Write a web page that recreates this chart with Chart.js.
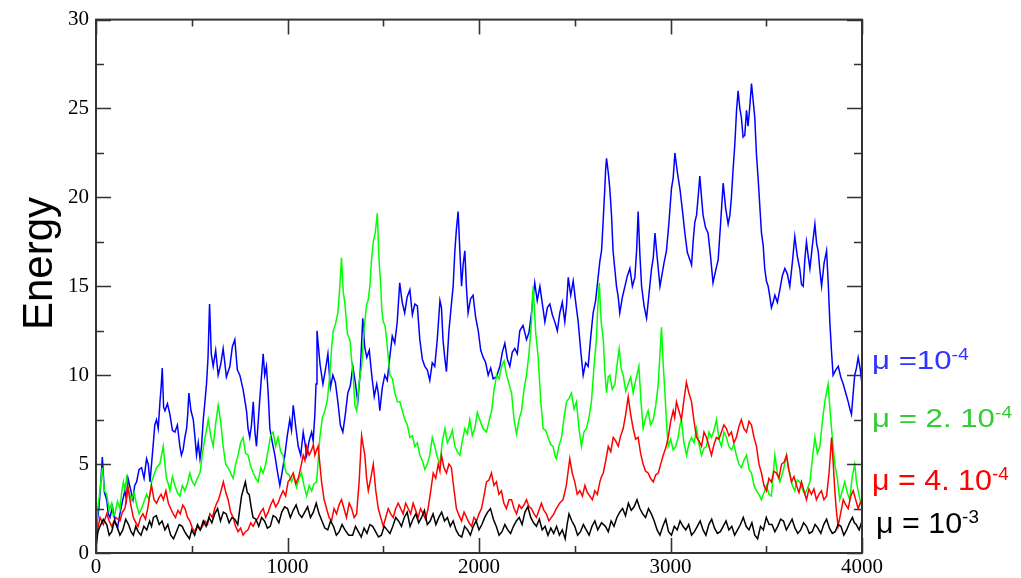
<!DOCTYPE html>
<html>
<head>
<meta charset="utf-8">
<script src="https://cdn.jsdelivr.net/npm/chart.js@4.4.1/dist/chart.umd.min.js"></script>
<style>
  html, body { margin: 0; padding: 0; background: #fff; }
  #wrap { position: relative; width: 1021px; height: 578px; overflow: hidden; }
  #c { position: absolute; left: 0; top: 0; }
  .lab { position: absolute; font-family: "Liberation Sans", Arial, sans-serif; white-space: nowrap; transform-origin: 0 0; line-height: 1; }
  .lab sup { font-size: 0.62em; vertical-align: 0; position: relative; top: -0.55em; }
  #ytitle { position: absolute; font-family: "Liberation Sans", Arial, sans-serif; font-size: 42px; line-height: 1; transform-origin: 0 0; transform: rotate(-90deg); white-space: nowrap; }
</style>
</head>
<body>
<div id="wrap">
  <canvas id="c" width="1021" height="578"></canvas>
  <div id="ytitle">Energy</div>
  <div class="lab" id="l1" style="color:#3333ff">μ =10<sup>-4</sup></div>
  <div class="lab" id="l2" style="color:#33cc33">μ = 2. 10<sup>-4</sup></div>
  <div class="lab" id="l3" style="color:#ff0000">μ = 4. 10<sup>-4</sup></div>
  <div class="lab" id="l4" style="color:#000000">μ = 10<sup>-3</sup></div>
</div>
<script>
// ---- tick definitions ----
const xMajorTicks = [0, 1000, 2000, 3000, 4000];
const xMinorTicks = [500, 1500, 2500, 3500];
const yMajorTicks = [0, 5, 10, 15, 20, 25, 30];
const yMinorTicks = [2.5, 7.5, 12.5, 17.5, 22.5, 27.5];
const xTickLabels = ["0", "1000", "2000", "3000", "4000"];
const yTickLabels = ["0", "5", "10", "15", "20", "25", "30"];
const seriesNames = ["μ =10^-4", "μ = 2. 10^-4", "μ = 4. 10^-4", "μ = 10^-3"];

// ---- series: mu = 1e-4 (blue) ----
const blueX = [0,7,15,24,33,44,56,64,73,86,99,112,125,138,151,159,167,180,193,202,212,225,238,251,264,273,282,290,298,307,316,325,334,340,346,353,360,373,386,399,412,425,438,446,455,464,473,479,485,496,508,516,525,534,543,551,560,568,577,585,593,602,612,625,638,651,664,681,699,712,725,738,751,768,786,794,803,812,821,830,838,855,873,881,890,899,908,921,934,947,960,973,986,999,1012,1021,1030,1043,1056,1069,1082,1091,1100,1113,1126,1134,1143,1149,1154,1170,1185,1198,1211,1224,1237,1250,1263,1276,1289,1302,1315,1328,1341,1354,1367,1380,1393,1403,1414,1427,1440,1453,1466,1474,1482,1495,1508,1521,1534,1547,1560,1573,1586,1599,1612,1625,1639,1652,1665,1678,1691,1704,1717,1730,1743,1756,1769,1782,1796,1804,1812,1821,1830,1843,1856,1865,1874,1882,1891,1900,1909,1917,1926,1934,1943,1956,1969,1982,1996,2009,2022,2035,2048,2061,2074,2091,2109,2122,2135,2148,2161,2174,2187,2200,2213,2230,2248,2261,2274,2282,2291,2304,2318,2331,2344,2357,2370,2383,2396,2409,2422,2435,2448,2457,2466,2479,2492,2505,2518,2531,2544,2557,2570,2583,2596,2609,2622,2631,2640,2648,2657,2661,2666,2675,2683,2692,2700,2709,2718,2727,2735,2749,2762,2775,2788,2801,2814,2823,2831,2840,2849,2862,2875,2888,2901,2910,2919,2928,2936,2945,2953,2966,2979,2992,3005,3014,3023,3036,3049,3062,3075,3088,3101,3110,3118,3127,3136,3145,3153,3162,3170,3183,3196,3209,3222,3236,3249,3262,3275,3288,3301,3310,3318,3327,3336,3345,3353,3362,3370,3379,3388,3397,3405,3414,3423,3432,3440,3449,3458,3467,3475,3484,3492,3501,3510,3519,3527,3536,3545,3558,3571,3584,3597,3610,3623,3636,3649,3662,3675,3684,3693,3702,3710,3719,3728,3741,3754,3763,3771,3780,3789,3802,3815,3824,3832,3841,3849,3863,3876,3889,3902,3915,3928,3937,3945,3954,3962,3971,3980,3990,4000];
const blueY = [0.5,1.8,2.5,3.8,5.4,3.4,3.0,2.2,2.0,2.6,1.8,1.4,2.2,2.9,3.5,3.0,4.2,3.6,3.0,3.8,4.0,4.7,4.8,4.2,5.3,5.0,4.0,5.0,6.0,7.2,7.5,7.0,8.5,9.3,10.4,8.2,8.0,8.4,7.8,6.9,6.8,7.2,6.0,5.5,5.8,6.5,7.0,7.8,9.0,8.0,7.5,6.6,5.5,6.2,5.3,6.0,7.5,8.4,9.5,11.0,14.0,11.2,10.5,11.4,10.0,10.6,11.5,9.9,10.5,11.6,12.0,10.3,10.0,9.2,8.0,7.0,6.5,7.2,8.5,6.8,6.0,8.6,11.2,10.0,10.5,9.0,7.0,6.2,5.5,4.6,3.8,4.6,5.5,6.6,7.5,6.9,8.3,7.1,6.0,5.5,6.8,6.2,5.5,6.3,6.8,6.3,7.8,9.5,12.5,10.6,9.5,10.3,11.2,9.3,10.0,9.6,8.5,7.2,6.8,7.8,9.0,9.4,10.5,9.6,8.5,10.2,13.2,11.6,11.0,11.4,10.0,8.8,9.5,9.0,8.0,9.3,10.0,9.7,11.0,12.2,11.8,13.0,15.2,14.1,13.5,14.4,14.8,13.4,14.0,13.9,12.0,10.9,10.5,10.3,9.7,10.7,10.5,12.0,14.2,13.8,12.0,11.0,10.2,12.5,14.0,15.0,17.0,18.2,19.2,17.0,15.0,16.2,17.0,15.0,13.5,14.3,14.5,13.3,12.5,11.4,11.0,10.7,10.0,10.4,9.8,9.9,10.5,11.3,11.8,10.9,10.5,11.3,11.5,11.2,12.5,12.8,12.0,12.4,13.5,14.3,15.2,14.2,15.0,14.0,13.0,13.8,14.0,13.4,13.0,12.5,13.5,14.1,13.0,13.9,15.5,14.5,15.3,14.1,13.0,11.4,10.0,10.7,10.5,12.1,13.5,14.2,15.5,16.4,17.0,18.6,20.5,21.5,22.2,21.4,20.5,19.0,17.0,16.0,15.0,14.4,13.5,14.4,15.0,15.6,16.0,15.0,15.5,17.0,19.2,16.8,15.0,13.9,13.2,14.6,16.0,16.6,18.0,16.9,16.0,15.0,15.5,16.3,17.0,18.6,20.5,21.1,22.5,21.4,20.5,19.3,18.0,16.9,16.5,16.2,17.5,18.6,19.0,20.1,21.2,20.0,19.0,18.3,18.0,16.7,15.2,15.9,16.5,18.6,20.8,19.4,18.5,19.0,20.0,21.6,23.0,24.9,26.0,25.0,24.5,23.4,23.5,24.9,24.0,25.1,26.4,25.4,24.5,22.4,21.0,19.4,18.0,17.3,16.0,15.3,15.0,14.4,13.8,14.1,14.5,14.1,14.8,15.6,16.0,15.7,15.0,16.3,17.8,16.7,16.0,15.1,15.0,16.6,17.5,16.7,16.0,17.3,18.5,17.4,17.0,15.9,15.0,16.3,17.0,15.1,13.0,11.3,10.0,10.3,10.5,9.9,9.5,9.0,8.5,8.1,7.8,9.0,10.0,10.4,11.0,10.4,9.5];

// ---- series: mu = 2e-4 (green) ----
const greenX = [0,10,21,27,33,44,56,69,82,90,99,112,125,134,143,151,160,173,186,199,212,225,238,251,264,277,290,303,316,333,351,360,368,377,386,399,412,425,438,451,464,477,490,503,516,529,543,556,569,577,586,599,612,625,638,651,664,677,690,703,716,729,742,755,768,781,794,807,821,834,847,860,873,886,899,912,925,938,951,964,977,986,995,1008,1021,1034,1047,1060,1073,1086,1100,1113,1126,1139,1152,1160,1169,1182,1195,1208,1221,1230,1239,1251,1263,1272,1282,1291,1300,1313,1326,1335,1343,1352,1361,1374,1387,1400,1413,1421,1430,1439,1448,1458,1469,1478,1487,1493,1500,1509,1518,1526,1535,1548,1561,1574,1587,1600,1613,1626,1639,1652,1665,1678,1691,1704,1717,1730,1743,1756,1769,1782,1796,1809,1822,1835,1848,1861,1874,1887,1900,1913,1926,1939,1952,1965,1978,1991,2004,2021,2039,2052,2066,2079,2092,2105,2118,2131,2144,2157,2170,2183,2196,2209,2222,2235,2248,2261,2274,2278,2283,2296,2309,2322,2335,2348,2361,2374,2387,2396,2404,2417,2431,2444,2457,2470,2483,2496,2509,2522,2535,2548,2561,2574,2587,2600,2613,2620,2628,2638,2649,2657,2666,2675,2683,2696,2710,2721,2732,2742,2753,2766,2779,2792,2805,2820,2835,2846,2857,2870,2883,2896,2910,2923,2936,2944,2953,2962,2971,2980,2988,3001,3014,3027,3040,3048,3057,3070,3084,3097,3110,3123,3136,3149,3162,3175,3188,3201,3214,3227,3240,3253,3266,3279,3292,3305,3318,3331,3344,3357,3370,3383,3397,3410,3423,3436,3449,3462,3475,3488,3501,3514,3527,3536,3545,3558,3571,3588,3606,3614,3623,3636,3649,3662,3675,3688,3701,3714,3728,3741,3754,3767,3780,3793,3806,3814,3823,3832,3841,3849,3858,3871,3884,3897,3910,3923,3936,3949,3962,3971,3980,3990,4000];
const greenY = [1.0,2.6,3.5,4.2,4.8,3.5,3.3,2.4,2.8,2.1,2.2,2.9,2.5,3.4,4.0,3.6,4.2,3.4,3.0,3.4,2.7,2.2,2.5,2.9,3.3,3.0,4.0,4.4,4.8,5.0,6.0,5.0,4.2,3.9,3.5,4.3,3.8,3.4,3.2,3.8,3.5,3.9,4.5,4.0,3.8,4.2,4.5,5.6,6.5,6.9,7.5,6.6,6.0,7.3,8.3,7.4,6.0,5.0,4.8,4.5,4.2,5.0,5.5,6.2,6.5,5.6,5.5,4.9,4.5,4.2,4.0,4.8,4.5,5.0,5.8,6.6,6.8,6.0,6.5,5.7,5.5,4.8,4.5,4.4,4.0,4.3,3.7,4.2,4.5,3.8,3.2,3.8,3.5,3.9,4.0,5.2,6.5,7.6,8.0,8.6,10.0,11.5,12.5,12.9,13.5,14.8,16.6,14.7,14.0,12.3,12.0,10.8,10.0,8.3,8.0,9.6,10.5,12.6,14.0,14.2,15.0,16.5,17.5,18.0,19.1,16.5,15.0,13.6,13.0,12.8,12.0,11.0,10.0,9.8,9.0,8.5,8.5,8.0,7.5,7.2,6.5,6.6,6.0,6.2,5.5,5.2,4.7,5.0,5.5,6.5,6.0,5.4,5.0,6.3,7.0,6.2,6.5,6.9,6.0,5.7,5.5,6.3,7.0,6.7,7.5,6.6,7.0,7.9,7.5,7.0,6.8,7.4,8.0,9.2,10.0,9.8,10.5,10.8,10.0,9.5,9.0,7.5,6.7,7.5,8.0,9.2,10.0,11.2,13.0,14.2,15.0,12.4,11.0,8.6,7.0,6.9,6.5,6.1,6.0,5.5,5.3,6.0,6.5,7.6,8.5,8.7,9.0,8.1,8.5,7.0,6.0,6.8,7.0,7.6,8.5,10.4,12.0,13.8,15.2,13.0,12.0,10.2,9.0,9.9,10.0,9.2,9.5,10.6,11.5,10.4,10.0,9.1,9.5,9.9,9.0,9.8,10.5,8.5,7.0,7.6,8.0,7.2,7.5,8.3,9.5,11.0,12.7,10.6,9.0,7.2,6.0,6.4,5.8,6.0,6.5,7.1,7.5,6.2,5.5,6.2,6.5,6.2,7.0,6.1,5.5,5.9,6.0,6.8,6.5,6.9,7.5,6.4,6.0,6.8,6.5,6.0,5.8,6.1,5.5,5.0,4.8,5.2,5.5,4.7,4.5,3.8,3.5,3.3,3.0,3.4,3.8,3.3,3.2,4.4,5.5,4.5,4.0,4.6,5.5,4.8,4.5,3.8,3.5,4.1,4.0,3.6,3.3,3.6,4.0,5.3,6.5,5.6,6.0,7.4,8.5,9.0,9.5,8.2,7.0,6.0,5.0,4.2,3.0,3.5,4.0,3.4,3.0,4.3,5.0,4.0,3.5,3.0,2.5];

// ---- series: mu = 4e-4 (red) ----
const redX = [0,10,21,38,56,69,82,103,125,138,151,158,165,180,195,208,220,233,245,258,270,280,290,303,316,328,340,352,365,378,390,403,415,428,440,453,465,478,490,503,516,530,543,556,569,582,595,608,620,630,640,653,665,678,690,703,716,729,742,755,768,781,794,808,821,834,847,860,873,886,899,912,925,938,951,964,977,990,1003,1017,1030,1043,1056,1069,1082,1091,1100,1113,1126,1135,1143,1152,1160,1169,1178,1191,1204,1217,1230,1243,1256,1269,1282,1295,1308,1322,1335,1348,1361,1374,1387,1396,1404,1413,1422,1435,1448,1461,1474,1487,1500,1513,1526,1539,1552,1565,1578,1591,1604,1617,1630,1643,1656,1669,1682,1695,1708,1721,1734,1748,1761,1774,1787,1796,1804,1817,1830,1843,1856,1869,1882,1896,1909,1922,1935,1948,1961,1974,1987,2000,2013,2026,2039,2052,2065,2078,2091,2104,2117,2130,2143,2157,2170,2183,2196,2209,2222,2235,2248,2261,2274,2287,2300,2313,2326,2339,2352,2365,2378,2391,2404,2421,2439,2456,2474,2487,2500,2513,2527,2540,2553,2566,2579,2592,2605,2618,2631,2640,2649,2662,2675,2688,2701,2714,2727,2740,2753,2766,2779,2792,2805,2818,2831,2844,2857,2870,2883,2896,2910,2923,2936,2949,2962,2975,2988,3001,3014,3022,3031,3044,3057,3070,3083,3096,3110,3123,3136,3149,3162,3175,3188,3201,3214,3227,3240,3253,3266,3279,3292,3305,3318,3331,3344,3357,3370,3383,3397,3410,3423,3436,3449,3462,3475,3488,3501,3514,3527,3540,3553,3566,3580,3593,3606,3619,3632,3645,3658,3671,3684,3697,3710,3723,3736,3749,3762,3775,3788,3801,3815,3828,3841,3850,3858,3866,3875,3888,3902,3915,3928,3941,3954,3967,3980,3990,4000];
const redY = [0.5,1.4,2.0,1.6,2.2,1.8,1.5,2.0,1.8,2.3,2.5,3.0,3.8,2.8,2.0,1.7,1.5,2.0,2.2,1.9,2.5,3.2,3.8,3.0,2.8,3.1,3.3,3.0,3.5,2.8,2.5,2.2,2.0,2.4,2.2,2.7,2.5,2.0,1.8,1.4,1.2,1.5,1.3,1.5,1.8,1.6,2.2,2.0,2.5,2.8,3.0,3.5,4.0,3.4,3.0,2.3,2.0,1.5,1.2,1.4,1.0,1.2,1.3,1.7,1.5,1.8,2.0,2.3,2.5,2.0,2.3,2.7,3.0,2.6,2.8,3.2,3.5,3.2,4.0,4.2,4.5,3.9,4.2,4.8,5.5,5.2,6.0,5.5,5.8,6.1,5.5,5.8,6.0,5.0,4.0,3.0,2.5,2.0,1.8,2.5,2.2,2.7,3.0,2.5,2.0,2.8,2.5,2.0,2.2,4.0,6.6,6.0,5.5,4.2,3.5,4.2,5.0,3.5,2.5,2.0,1.5,2.0,2.5,2.2,2.0,2.5,2.8,2.5,2.2,2.8,2.5,2.2,2.8,2.4,2.0,2.5,2.2,1.9,2.5,3.5,4.5,4.2,5.0,4.6,5.5,4.8,4.5,5.0,4.8,3.6,2.5,2.1,1.8,2.3,2.0,1.7,1.5,2.0,1.8,2.2,2.5,3.2,4.0,4.1,4.5,3.8,4.0,3.3,3.5,2.8,2.5,3.0,3.0,2.5,2.2,2.7,2.5,2.7,3.0,2.6,2.5,2.2,2.0,2.4,2.8,2.4,2.2,1.8,2.0,2.2,2.5,2.8,3.0,3.8,5.3,4.5,4.0,3.3,3.5,3.2,3.8,3.4,3.2,3.0,3.5,3.3,4.0,4.3,4.5,5.2,6.0,5.7,6.5,6.3,6.0,6.6,7.0,7.8,8.8,7.8,7.0,6.4,6.5,5.6,5.0,4.6,4.5,4.2,4.0,4.4,4.5,5.0,5.5,5.9,6.5,7.4,8.0,7.6,8.5,8.0,7.5,8.6,9.6,9.0,8.5,7.4,6.5,6.3,6.0,6.8,6.5,6.0,5.5,6.1,6.5,6.4,6.8,7.2,7.0,6.6,6.8,6.2,6.5,7.1,7.5,7.0,6.8,7.4,7.2,6.5,6.0,5.0,4.5,3.8,3.5,4.2,4.0,4.6,4.5,4.2,5.0,5.1,5.5,4.6,4.0,4.3,3.8,3.4,4.0,3.5,3.0,3.6,3.3,3.6,3.0,3.3,3.5,3.0,3.2,4.5,6.5,5.0,3.5,2.4,1.5,2.2,3.0,2.7,2.5,3.2,3.5,3.0,2.5,2.8,3.0];

// ---- series: mu = 1e-3 (black) ----
const blackX = [0,10,21,38,56,69,82,96,110,125,140,155,170,183,195,208,220,235,250,265,280,290,300,315,330,345,360,375,390,405,420,435,450,463,475,488,500,515,530,545,560,575,590,605,620,635,650,665,680,695,710,725,740,750,760,770,780,790,800,810,820,835,850,865,880,895,910,925,940,955,970,985,1000,1015,1030,1045,1060,1075,1090,1105,1120,1135,1150,1165,1180,1195,1210,1225,1240,1255,1270,1285,1300,1320,1340,1355,1370,1385,1400,1415,1430,1445,1460,1475,1490,1505,1520,1535,1550,1565,1580,1595,1610,1625,1640,1655,1670,1685,1700,1715,1730,1745,1760,1775,1790,1805,1820,1835,1850,1865,1880,1895,1910,1925,1940,1955,1970,1985,2000,2015,2030,2045,2060,2075,2090,2105,2120,2135,2150,2165,2180,2195,2210,2225,2240,2255,2270,2285,2300,2315,2330,2345,2360,2375,2390,2405,2420,2435,2450,2460,2470,2485,2500,2515,2530,2545,2560,2575,2590,2605,2620,2640,2660,2675,2690,2705,2720,2735,2750,2765,2780,2795,2810,2825,2840,2855,2870,2885,2900,2915,2930,2945,2960,2975,2990,3005,3020,3035,3050,3065,3080,3095,3110,3125,3140,3155,3170,3185,3200,3215,3230,3245,3260,3275,3290,3305,3320,3335,3350,3365,3380,3395,3410,3425,3440,3455,3470,3485,3500,3515,3530,3545,3560,3575,3590,3605,3620,3635,3650,3665,3680,3695,3710,3725,3740,3755,3770,3785,3800,3815,3830,3845,3860,3875,3890,3905,3920,3935,3950,3960,3970,3985,4000];
const blackY = [0.3,1.2,1.5,1.9,1.6,1.0,1.2,1.8,1.5,1.0,1.3,1.9,1.6,1.2,1.0,1.5,1.2,1.0,1.5,1.3,1.8,1.5,2.0,2.1,1.6,1.8,1.3,1.6,1.0,0.8,1.2,1.6,1.5,1.2,1.0,0.8,1.3,1.0,1.6,1.3,1.8,1.5,2.0,1.7,2.2,2.5,1.8,2.3,2.2,1.7,2.0,1.9,1.6,2.4,3.2,3.6,4.0,3.4,3.3,2.6,2.0,1.9,1.5,2.0,1.8,1.4,1.5,2.1,2.0,1.7,2.3,2.6,2.5,2.0,2.4,2.7,2.2,2.0,2.3,2.6,2.0,2.3,2.8,2.2,1.8,1.4,1.3,1.8,1.5,1.0,1.2,1.6,1.3,1.0,1.0,1.5,1.2,0.9,1.4,1.1,1.6,1.5,1.2,0.9,1.0,1.5,1.3,1.1,1.5,2.0,1.8,1.5,2.0,2.3,1.5,1.9,2.2,1.7,2.0,2.4,1.6,1.8,2.2,1.6,2.0,2.3,1.8,2.0,1.5,1.8,1.3,1.0,0.9,1.5,1.3,1.0,1.5,1.8,1.3,1.6,2.0,2.3,2.5,1.9,1.5,1.0,1.2,1.6,1.3,1.1,1.5,1.8,2.0,1.6,2.3,2.6,2.0,1.7,1.5,1.9,1.3,1.5,1.0,1.4,1.1,1.5,1.0,1.3,0.8,1.6,2.2,1.8,1.5,1.0,1.2,1.6,1.3,1.0,1.5,1.8,1.3,1.7,1.5,1.2,1.8,1.5,2.0,2.3,2.5,2.1,2.8,2.4,2.6,3.0,2.5,2.2,2.0,2.5,2.2,1.8,1.3,1.0,1.5,1.9,1.2,1.0,1.5,1.3,1.8,1.5,1.3,1.6,1.0,1.2,1.5,1.8,1.3,1.0,1.6,1.9,1.4,1.1,1.2,1.5,1.8,1.3,1.5,1.0,1.3,1.6,2.0,1.5,1.3,1.7,1.0,0.8,1.5,1.3,2.0,1.6,1.6,1.2,1.5,1.9,1.8,1.3,1.6,1.9,1.4,1.1,1.3,1.7,1.5,1.1,1.2,1.6,1.4,1.1,1.6,1.9,1.4,1.1,1.2,1.6,1.5,1.0,1.3,1.7,2.0,1.7,1.6,1.3,1.8];

const seriesColors = ["#0000ff", "#00ff00", "#ff0000", "#000000"];

function pts(xs, ys) { return xs.map((x, i) => ({ x: x, y: ys[i] })); }

const AREA = { left: 96, right: 862, top: 16, bottom: 553 };

const frameTicks = {
  id: 'frameTicks',
  afterDatasetsDraw(chart) {
    const ctx = chart.ctx, xs = chart.scales.x, ys = chart.scales.y, a = chart.chartArea;
    ctx.save();
    ctx.strokeStyle = '#333333';
    ctx.lineWidth = 1.6;
    ctx.beginPath();
    yMajorTicks.forEach(v => { const p = Math.round(ys.getPixelForValue(v)) + 0.5;
      ctx.moveTo(a.left, p); ctx.lineTo(a.left + 15, p);
      ctx.moveTo(a.right, p); ctx.lineTo(a.right - 15, p); });
    yMinorTicks.forEach(v => { const p = Math.round(ys.getPixelForValue(v)) + 0.5;
      ctx.moveTo(a.left, p); ctx.lineTo(a.left + 8, p);
      ctx.moveTo(a.right, p); ctx.lineTo(a.right - 8, p); });
    xMajorTicks.forEach(v => { const p = Math.round(xs.getPixelForValue(v)) + 0.5;
      ctx.moveTo(p, a.bottom); ctx.lineTo(p, a.bottom - 15);
      ctx.moveTo(p, a.top); ctx.lineTo(p, a.top + 15); });
    xMinorTicks.forEach(v => { const p = Math.round(xs.getPixelForValue(v)) + 0.5;
      ctx.moveTo(p, a.bottom); ctx.lineTo(p, a.bottom - 7);
      ctx.moveTo(p, a.top); ctx.lineTo(p, a.top + 7); });
    ctx.stroke();
    ctx.lineWidth = 2;
    ctx.strokeRect(a.left, a.top, a.right - a.left, a.bottom - a.top);
    ctx.restore();
  }
};

new Chart(document.getElementById('c'), {
  type: 'line',
  data: {
    datasets: [
      { label: seriesNames[0], data: pts(blueX, blueY), borderColor: seriesColors[0], order: 3 },
      { label: seriesNames[1], data: pts(greenX, greenY), borderColor: seriesColors[1], order: 2 },
      { label: seriesNames[2], data: pts(redX, redY), borderColor: seriesColors[2], order: 1 },
      { label: seriesNames[3], data: pts(blackX, blackY), borderColor: seriesColors[3], order: 0 }
    ]
  },
  options: {
    responsive: false,
    animation: false,
    events: [],
    layout: { padding: { left: 0, right: 1021 - AREA.right, top: AREA.top, bottom: 0 } },
    elements: { point: { radius: 0 }, line: { borderWidth: 1.5, tension: 0 } },
    plugins: { legend: { display: false }, tooltip: { enabled: false } },
    scales: {
      x: {
        type: 'linear', min: 0, max: 4000,
        afterFit(s) { s.height = 578 - AREA.bottom; },
        afterBuildTicks(s) { s.ticks = xMajorTicks.map(v => ({ value: v })); },
        grid: { display: false, drawTicks: false },
        border: { display: false },
        ticks: { padding: 2, color: '#000', maxRotation: 0, autoSkip: false,
          font: { family: '"Liberation Serif", "Times New Roman", serif', size: 21 },
          callback: (v) => { const i = xMajorTicks.indexOf(v); return i >= 0 ? xTickLabels[i] : ''; } }
      },
      y: {
        type: 'linear', min: 0, max: 30,
        afterFit(s) { s.width = AREA.left; },
        afterBuildTicks(s) { s.ticks = yMajorTicks.map(v => ({ value: v })); },
        grid: { display: false, drawTicks: false },
        border: { display: false },
        ticks: { padding: 7, color: '#000', autoSkip: false,
          font: { family: '"Liberation Serif", "Times New Roman", serif', size: 21 },
          callback: (v) => { const i = yMajorTicks.indexOf(v); return i >= 0 ? yTickLabels[i] : ''; } }
      }
    }
  },
  plugins: [frameTicks]
});

function place(id, left, top, sx, size) {
  const el = document.getElementById(id);
  el.style.left = left + 'px'; el.style.top = top + 'px';
  el.style.fontSize = size + 'px';
  el.style.transform = 'scaleX(' + sx + ')';
}
place('l1', 872, 347, 1.2, 26);
place('l2', 872, 405, 1.2, 26);
place('l3', 872, 466, 1.05, 29);
place('l4', 876, 509, 1.05, 29);
const yt = document.getElementById('ytitle');
yt.style.left = '17px';
yt.style.top = '330px';
</script>
</body>
</html>
